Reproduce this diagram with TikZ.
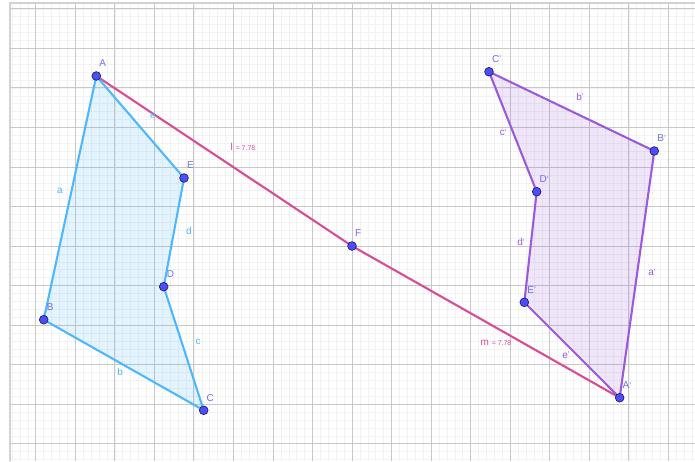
\documentclass[tikz,border=0pt]{standalone}
\usepackage{fontspec}
\setmainfont{Liberation Sans}
\usepackage{tikz}
\usetikzlibrary{calc}
\definecolor{gridmin}{HTML}{F2F2F2}
\definecolor{gridmaj}{HTML}{C8C8C8}
\definecolor{frame}{HTML}{D2D2D2}
\definecolor{sky}{HTML}{4DB8FF}
\definecolor{lilac}{HTML}{9B59DD}
\definecolor{rose}{HTML}{DA4A96}
\definecolor{dotblue}{HTML}{4D4DFF}
\definecolor{dotrim}{HTML}{1F1F66}
\definecolor{ptname}{HTML}{7070F0}
\newcommand{\prm}{\raisebox{0.1ex}{\fontsize{6}{6}\selectfont'}}

\begin{document}
\begin{tikzpicture}[
  font=\fontsize{7.2}{8}\selectfont,
  pt/.style={circle, fill=dotblue, draw=dotrim, line width=0.5pt,
             minimum size=2.2mm, inner sep=0pt},
  ptlbl/.style={text=ptname, inner sep=0pt, xshift=-0.4pt, yshift=4pt},
  bside/.style={draw=sky, line width=1.5pt, line cap=round},
  pside/.style={draw=lilac, line width=1.5pt, line cap=round},
  seg/.style={draw=rose, line width=1.5pt},
  bname/.style={text=sky, inner sep=1pt},
  pname/.style={text=lilac, inner sep=1pt},
  rname/.style={text=rose, inner sep=1pt}
]

% ---- canvas and grid ----------------------------------------------------
\useasboundingbox (-8.903,-5.438) rectangle (8.675,6.222);
\fill[white] (-8.903,-5.438) rectangle (8.675,6.222);
\draw[gridmin, line width=0.35pt, step=0.2] (-8.65,-5.438) grid (8.675,6.153);
\draw[gridmaj, line width=0.6pt, step=1] (-8.65,-5.438) grid (8.675,6.153);
\draw[frame, line width=1.2pt] (-8.65,-5.438) -- (-8.65,6.153) -- (8.675,6.153);

% ---- vertices -----------------------------------------------------------
\coordinate (A)  at (-6.467, 4.300);
\coordinate (B)  at (-7.797,-1.864);
\coordinate (C)  at (-3.751,-4.155);
\coordinate (D)  at (-4.762,-1.029);
\coordinate (E)  at (-4.249, 1.720);
\coordinate (F)  at ( 0.000, 0.000);
\coordinate (Ap) at ( 6.770,-3.837);
\coordinate (Bp) at ( 7.645, 2.403);
\coordinate (Cp) at ( 3.465, 4.408);
\coordinate (Dp) at ( 4.671, 1.373);
\coordinate (Ep) at ( 4.358,-1.424);

% ---- polygons -----------------------------------------------------------
\fill[sky, fill opacity=0.15] (A) -- (B) -- (C) -- (D) -- (E) -- cycle;
\fill[lilac, fill opacity=0.15] (Ap) -- (Bp) -- (Cp) -- (Dp) -- (Ep) -- cycle;

\draw[seg] (A) -- (F);
\draw[seg] (F) -- (Ap);

\draw[bside] (A) -- (B);
\draw[bside] (B) -- (C);
\draw[bside] (C) -- (D);
\draw[bside] (D) -- (E);
\draw[bside] (E) -- (A);

\draw[pside] (Ap) -- (Bp);
\draw[pside] (Bp) -- (Cp);
\draw[pside] (Cp) -- (Dp);
\draw[pside] (Dp) -- (Ep);
\draw[pside] (Ep) -- (Ap);

% ---- side names ---------------------------------------------------------
\node[bname] (la) at (-7.386, 1.391) {a};
\node[bname] (lb) at (-5.867,-3.187) {b};
\node[bname] (lc) at (-3.895,-2.428) {c};
\node[bname] (ld) at (-4.122, 0.379) {d};
\node[bname] (le) at (-5.033, 3.288) {e};
\node[pname] (lap) at (7.588,-0.675) {a\prm};
\node[pname] (lbp) at (5.766, 3.776) {b\prm};
\node[pname] (lcp) at (3.827, 2.866) {c\prm};
\node[pname] (ldp) at (4.274, 0.093) {d\prm};
\node[pname] (lep) at (5.412,-2.765) {e\prm};
\node[rname] (ll) at (-2.757, 2.504) {l {\fontsize{5}{6}\selectfont = 7.78}};
\node[rname] (lm) at ( 3.642,-2.453) {m {\fontsize{5}{6}\selectfont = 7.78}};

% ---- points -------------------------------------------------------------
\node[pt, label={[ptlbl]north east:A}] (pA) at (A) {};
\node[pt, label={[ptlbl]north east:B}] (pB) at (B) {};
\node[pt, label={[ptlbl]north east:C}] (pC) at (C) {};
\node[pt, label={[ptlbl]north east:D}] (pD) at (D) {};
\node[pt, label={[ptlbl]north east:E}] (pE) at (E) {};
\node[pt, label={[ptlbl]north east:F}] (pF) at (F) {};
\node[pt, label={[ptlbl]north east:A\prm}] (pAp) at (Ap) {};
\node[pt, label={[ptlbl]north east:B\prm}] (pBp) at (Bp) {};
\node[pt, label={[ptlbl]north east:C\prm}] (pCp) at (Cp) {};
\node[pt, label={[ptlbl]north east:D\prm}] (pDp) at (Dp) {};
\node[pt, label={[ptlbl]north east:E\prm}] (pEp) at (Ep) {};

\end{tikzpicture}
\end{document}
